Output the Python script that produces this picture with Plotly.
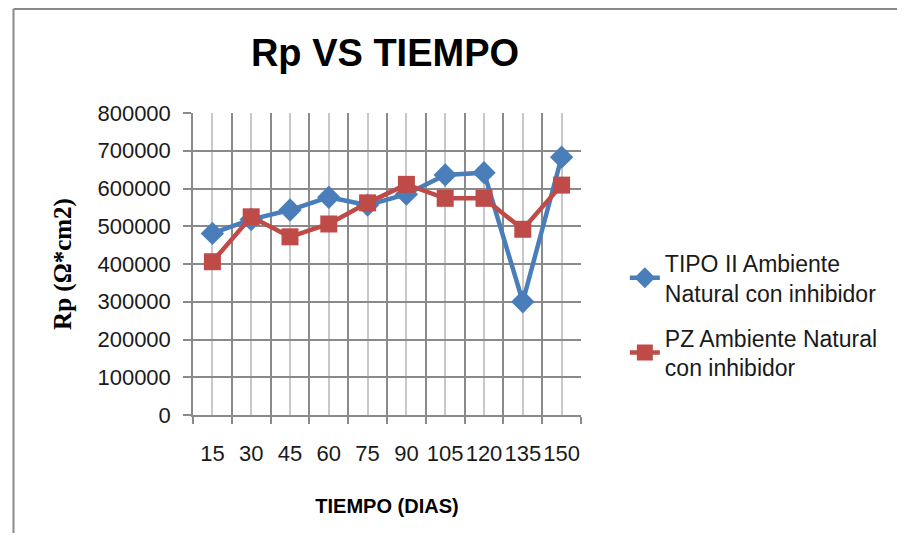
import plotly.graph_objects as go

dias = [15, 30, 45, 60, 75, 90, 105, 120, 135, 150]
tipo_ii = [481000, 518000, 543000, 577000, 556000, 585000, 636000, 642000, 300000, 683000]
pz = [406000, 525000, 472000, 506000, 562000, 611000, 574000, 574000, 492000, 609000]

y_ticks = [0, 100000, 200000, 300000, 400000, 500000, 600000, 700000, 800000]

azul = "#4a7ebb"
rojo = "#be4b48"
gris = "#8a8a8a"

# the page keeps an 8px body margin, so the figure is kept a bit smaller than the window
W, H = 889, 525
L, T, PW, PH = 185, 105, 388, 302

# chart frame: only its left and top edges fall inside the picture
borde_x = (5.5 - L) / PW
borde_y = (PH + T - 1) / PH

fig = go.Figure()

fig.add_trace(
    go.Scatter(
        x=dias,
        y=tipo_ii,
        mode="lines+markers",
        name="TIPO II Ambiente<br>Natural con inhibidor",
        legendgroup="a",
        line=dict(color=azul, width=4.5),
        marker=dict(symbol="diamond", size=18, color=azul),
    )
)
fig.add_trace(
    go.Scatter(
        x=dias,
        y=pz,
        mode="lines+markers",
        name="PZ Ambiente Natural<br>con inhibidor",
        legendgroup="b",
        line=dict(color=rojo, width=4.5),
        marker=dict(symbol="square", size=17, color=rojo),
    )
)

fig.update_layout(
    width=W,
    height=H,
    margin=dict(l=L, r=W - L - PW, t=T, b=H - T - PH),
    paper_bgcolor="white",
    plot_bgcolor="white",
    font=dict(family="Liberation Sans, Arial, sans-serif", size=22, color="#1a1a1a"),
    title=dict(
        text="<b>Rp VS TIEMPO</b>",
        x=377 / W,
        xanchor="center",
        y=1 - 45 / H,
        yanchor="middle",
        font=dict(family="Liberation Sans Narrow, Liberation Sans, sans-serif", size=38, color="black"),
    ),
    legend=dict(
        x=1.113,
        xanchor="left",
        y=0.575,
        yanchor="top",
        tracegroupgap=12,
        font=dict(size=23, color="#1a1a1a"),
        bgcolor="rgba(0,0,0,0)",
    ),
    shapes=[
        dict(
            type="line", xref="paper", yref="paper",
            x0=borde_x, x1=borde_x, y0=-(H - T - PH) / PH, y1=borde_y,
            line=dict(color=gris, width=2), layer="below",
        ),
        dict(
            type="line", xref="paper", yref="paper",
            x0=borde_x, x1=(W - L) / PW, y0=borde_y, y1=borde_y,
            line=dict(color=gris, width=2), layer="below",
        ),
    ],
)

fig.update_xaxes(
    range=[7.5, 157.5],
    tickvals=dias,
    ticktext=[str(d) for d in dias],
    ticks="",
    ticklabelstandoff=18,
    showgrid=True,
    gridcolor="#c8c8c8",
    gridwidth=1.5,
    showline=True,
    linecolor=gris,
    linewidth=1.5,
    zeroline=False,
    minor=dict(
        tick0=7.5,
        dtick=15,
        showgrid=True,
        gridcolor=gris,
        gridwidth=1.5,
        ticks="outside",
        ticklen=7,
        tickcolor=gris,
        tickwidth=1.5,
    ),
    title=dict(
        text="<b>TIEMPO (DIAS)</b>",
        font=dict(size=20, color="black"),
        standoff=34,
    ),
)

fig.update_yaxes(
    range=[0, 800000],
    tickvals=y_ticks,
    tickformat="d",
    ticks="outside",
    ticklen=8,
    tickcolor=gris,
    tickwidth=1.5,
    ticklabelstandoff=8,
    showgrid=True,
    gridcolor=gris,
    gridwidth=1.5,
    showline=True,
    linecolor=gris,
    linewidth=1.5,
    zeroline=False,
    title=dict(
        text="<b>Rp (Ω*cm2)</b>",
        font=dict(family="Liberation Serif, Times New Roman, serif", size=25, color="black"),
        standoff=19,
    ),
)

fig.write_html("out.html")
